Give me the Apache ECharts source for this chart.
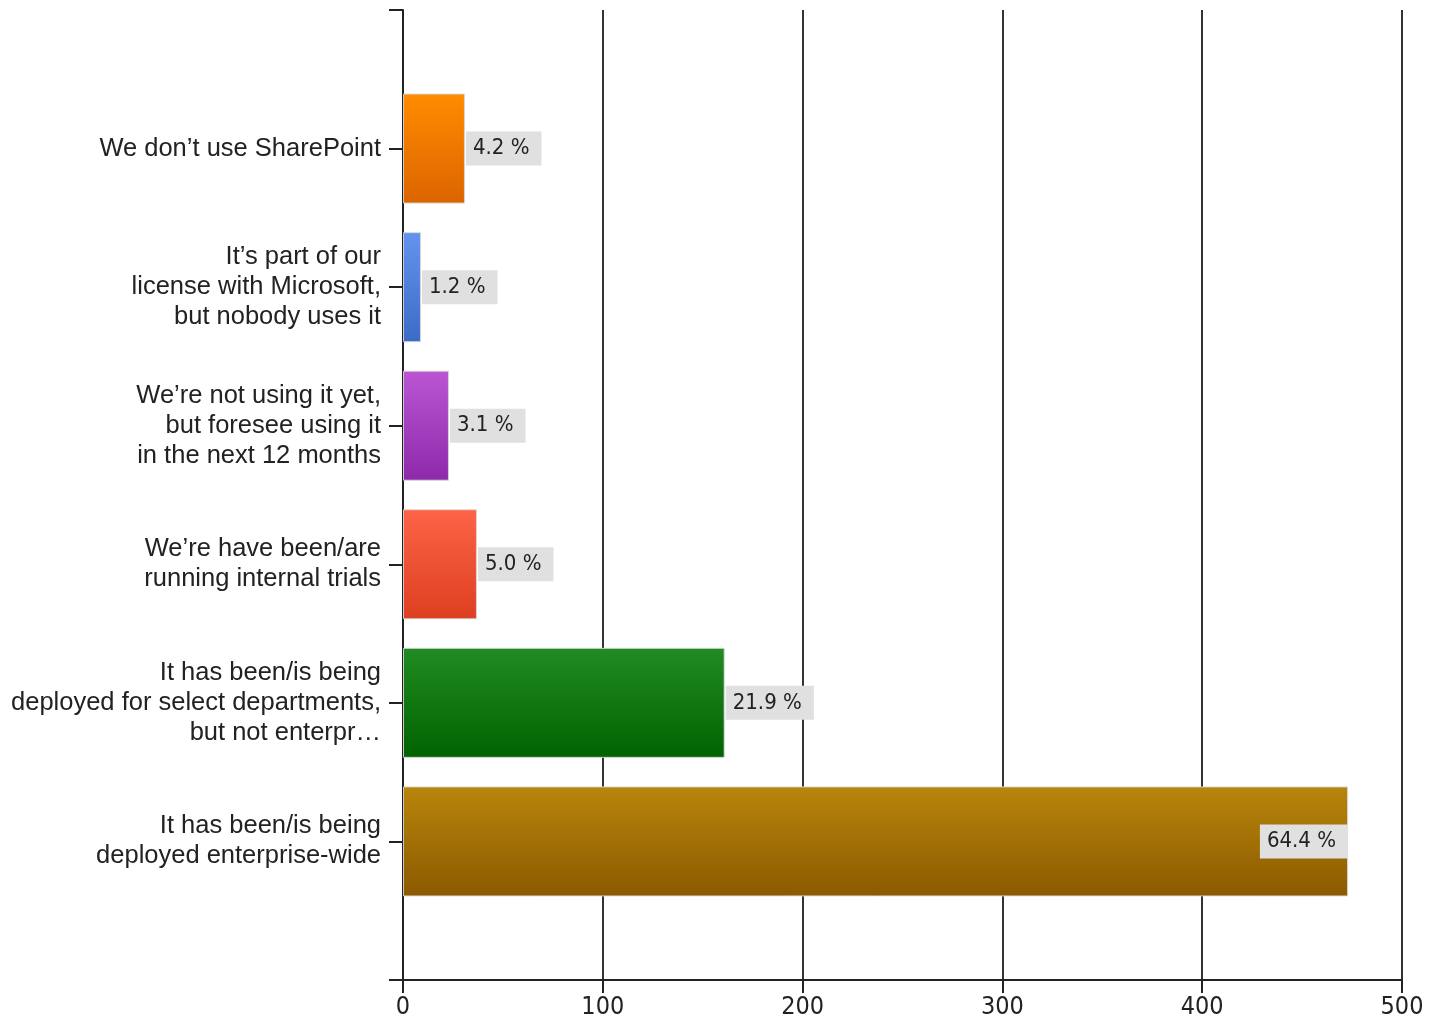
<!DOCTYPE html>
<html>
<head>
<meta charset="utf-8">
<script src="https://cdn.jsdelivr.net/npm/echarts@6/dist/echarts.min.js"></script>
<style>
html,body{margin:0;padding:0;background:#fff;}
#chart{width:1440px;height:1026px;}
</style>
</head>
<body>
<div id="chart"></div>
<script>
const categories = [
  "We don’t use SharePoint",
  "It’s part of our\nlicense with Microsoft,\nbut nobody uses it",
  "We’re not using it yet,\nbut foresee using it\nin the next 12 months",
  "We’re have been/are\nrunning internal trials",
  "It has been/is being\ndeployed for select departments,\nbut not enterpr…",
  "It has been/is being\ndeployed enterprise-wide"
];
const counts = [31, 9, 23, 37, 161, 473];
const percents = [4.2, 1.2, 3.1, 5.0, 21.9, 64.4];
const xTicks = [0, 100, 200, 300, 400, 500];

const topColors = ['#ff8c00', '#6495ed', '#ba55d3', '#ff6347', '#228b22', '#b8860b'];
const bottomColors = ['#dc6400', '#3a6bc6', '#8e2aaa', '#dc4020', '#006400', '#8b5a00'];

const FONT = 'Liberation Sans';
const NARROW = "'Liberation Sans Narrow', 'Arial Narrow', 'DejaVu Sans Condensed', 'Liberation Sans'";
const chart = echarts.init(document.getElementById('chart'));

const axisCats = [''].concat(categories, ['']);
const seriesData = [null].concat(counts.map((v, i) => ({
  value: v,
  itemStyle: {
    color: new echarts.graphic.LinearGradient(0, 0, 0, 1, [
      {offset: 0, color: topColors[i]},
      {offset: 1, color: bottomColors[i]}
    ])
  },
  label: i === counts.length - 1 ? {position: 'insideRight', distance: 0} : {position: 'right', distance: 1}
})), [null]);

chart.setOption({
  animation: false,
  grid: {left: 403, right: 38, top: 10, bottom: 46, containLabel: false},
  xAxis: {
    type: 'value',
    min: xTicks[0],
    max: xTicks[xTicks.length - 1],
    interval: 100,
    axisLine: {show: true, lineStyle: {color: '#222', width: 2}},
    axisTick: {show: true, length: 13, lineStyle: {color: '#222', width: 2}},
    splitLine: {show: true, lineStyle: {color: '#333', width: 2}},
    axisLabel: {fontFamily: NARROW, fontSize: 25, color: '#222', margin: 15}
  },
  yAxis: {
    type: 'category',
    inverse: true,
    boundaryGap: false,
    data: axisCats,
    axisLine: {show: true, lineStyle: {color: '#222', width: 2}},
    axisTick: {show: true, length: 14, lineStyle: {color: '#222', width: 2}},
    splitLine: {show: false},
    axisLabel: {fontFamily: FONT, fontSize: 25.5, color: '#222', margin: 22, lineHeight: 30, align: 'right', interval: 0, padding: [4, 0, 0, 0]}
  },
  series: [{
    type: 'bar',
    data: seriesData,
    barWidth: 110,
    itemStyle: {borderColor: 'rgba(215,215,215,0.9)', borderWidth: 1},
    label: {
      show: true,
      formatter: p => percents[p.dataIndex - 1].toFixed(1) + ' %',
      fontFamily: NARROW,
      fontSize: 22,
      color: '#222',
      backgroundColor: '#e0e0e0',
      padding: [7, 12, 5, 7]
    }
  }]
});
</script>
</body>
</html>
